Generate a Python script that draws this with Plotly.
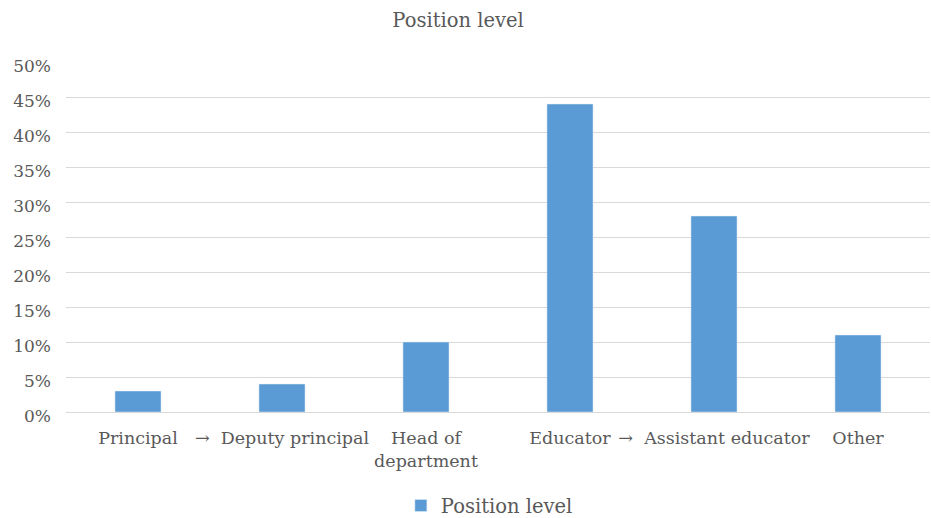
import plotly.graph_objects as go

categories = ["Principal", "→  Deputy principal", "Head of<br>department", "Educator", "→  Assistant educator", "Other"]
values = [0.03, 0.04, 0.10, 0.44, 0.28, 0.11]
series_name = "Position level"
title_text = "Position level"

FONT = "DejaVu Serif"
GRAY = "#595959"

fig = go.Figure()
fig.add_trace(go.Bar(
    x=list(range(len(categories))), y=values, name=series_name,
    marker=dict(color="#5b9bd5"), showlegend=True,
))

fig.update_layout(
    width=931, height=518,
    margin=dict(l=66, r=1, t=62, b=106, autoexpand=False),
    paper_bgcolor="white", plot_bgcolor="white",
    title=dict(text=title_text, x=0.492, xanchor="center", y=0.962, yanchor="middle",
               font=dict(family=FONT, size=19.5, color=GRAY)),
    bargap=0.68,
    font=dict(family=FONT, color=GRAY),
    legend=dict(orientation="h", x=0.49, xanchor="center", y=-0.268, yanchor="middle",
                itemwidth=30, font=dict(family=FONT, size=19.5, color=GRAY)),
    xaxis=dict(tickmode="array", tickvals=list(range(len(categories))), ticktext=categories,
               range=[-0.5, len(categories) - 0.5], automargin=False,
               showgrid=False, showline=True, linecolor="#d9d9d9", linewidth=1,
               ticks="", ticklabelstandoff=10, tickfont=dict(family=FONT, size=17.5, color=GRAY)),
    yaxis=dict(range=[0, 0.5], dtick=0.05, tickformat=".0%", showgrid=True, automargin=False,
               gridcolor="#d9d9d9", gridwidth=1, zeroline=False, showline=False,
               ticks="", ticklabelstandoff=14, ticklabelshift=4,
               tickfont=dict(family=FONT, size=17, color=GRAY)),
)

fig.write_html("out.html")
